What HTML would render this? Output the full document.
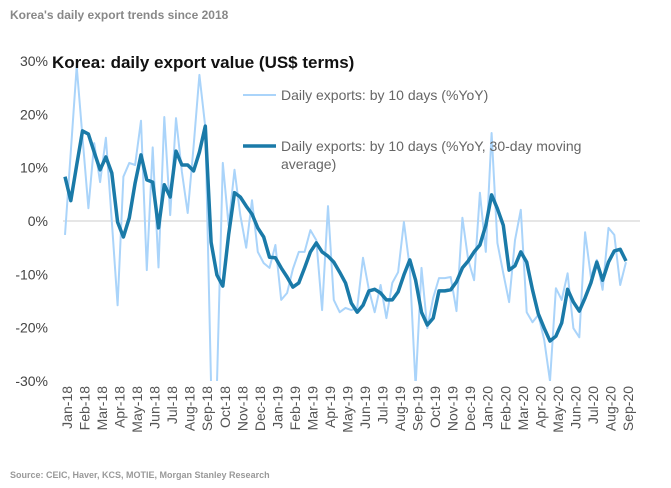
<!DOCTYPE html>
<html><head><meta charset="utf-8"><style>
body{margin:0;background:#fff;width:671px;height:483px;overflow:hidden;font-family:"Liberation Sans",sans-serif}
</style></head><body>
<svg width="671" height="483" xmlns="http://www.w3.org/2000/svg">
<text x="10" y="19" font-size="12" font-weight="bold" fill="#888">Korea's daily export trends since 2018</text>
<text x="10" y="478" font-size="9" font-weight="bold" fill="#999">Source: CEIC, Haver, KCS, MOTIE, Morgan Stanley Research</text>
<defs><clipPath id="pc"><rect x="60" y="61" width="590" height="320"/></clipPath></defs>
<g id="yaxis"></g>
<g id="xaxis"></g>
<line x1="63" x2="640" y1="221" y2="221" stroke="#ccc" stroke-width="1"/>
<g clip-path="url(#pc)"><path id="light" fill="none" stroke="#aad4fa" stroke-width="2" stroke-linejoin="round"/>
<path id="dark" fill="none" stroke="#1a7aa8" stroke-width="3.5" stroke-linejoin="round"/></g>
<text x="52" y="68" font-size="17" font-weight="bold" fill="#111">Korea: daily export value (US$ terms)</text>
<g><line x1="243" x2="276" y1="95" y2="95" stroke="#aad4fa" stroke-width="2"/><text x="281" y="100" font-size="14" fill="#666">Daily exports: by 10 days (%YoY)</text></g>
<g><line x1="243" x2="276" y1="146" y2="146" stroke="#1a7aa8" stroke-width="3.5"/><text x="281" y="151" font-size="14" fill="#666">Daily exports: by 10 days (%YoY, 30-day moving</text><text x="281" y="169" font-size="14" fill="#666">average)</text></g>
</svg>
<script>
const months=["Jan-18","Feb-18","Mar-18","Apr-18","May-18","Jun-18","Jul-18","Aug-18","Sep-18","Oct-18","Nov-18","Dec-18","Jan-19","Feb-19","Mar-19","Apr-19","May-19","Jun-19","Jul-19","Aug-19","Sep-19","Oct-19","Nov-19","Dec-19","Jan-20","Feb-20","Mar-20","Apr-20","May-20","Jun-20","Jul-20","Aug-20","Sep-20"];
const yTicks=[30,20,10,0,-10,-20,-30];
const daily=[-2.6,13,29,15.7,2.4,14.6,7.3,15.6,0,-15.8,8.3,10.9,10.5,18.8,-9.2,13.8,-8.7,19.5,1.1,19.3,9.2,1.5,14,27.4,17.6,-31,-31,10.9,-0.8,9.6,1.1,-5,3.9,-5.8,-7.9,-8.8,-4.5,-14.8,-13.5,-9,-5.8,-5.8,-1.7,-3.6,-16.7,2.8,-14.8,-17.1,-16.3,-16.7,-16.3,-6.9,-12.9,-17.1,-12,-18.2,-11.6,-9.6,-0.2,-8.8,-31,-8.8,-20.1,-14.4,-10.7,-10.7,-10.5,-16.9,0.6,-7.3,-11.1,5.3,-5.8,16.5,-4.1,-9.8,-15.2,-3.6,2.1,-17.1,-19,-17.6,-22.3,-30,-12.6,-14.8,-9.8,-20.1,-21.8,-2.1,-10.5,-7.3,-12.9,-1.3,-2.6,-12,-7.7];
const avg30=[8.3,3.8,10.5,16.9,16.3,12.9,9.6,12,9,-0.2,-3,0.6,7.1,12.4,7.7,7.3,-1.3,6.8,4.5,13.1,10.5,10.5,9.4,12.9,17.8,-4,-10.1,-12.2,-2.6,5.3,4.5,2.8,1.3,-1.3,-3,-6.8,-6.9,-8.8,-10.5,-12.4,-11.6,-8.8,-5.8,-4.1,-5.8,-6.6,-7.7,-9.6,-11.6,-15.4,-17.1,-15.8,-13.1,-12.8,-13.5,-14.8,-14.8,-13.3,-10.1,-7.3,-11.1,-17.1,-19.5,-18.2,-13.1,-13.1,-12.9,-11.4,-8.8,-7.5,-5.8,-4.5,-0.8,4.9,2.3,-0.8,-9.2,-8.4,-5.8,-7.7,-12.9,-17.4,-20.1,-22.5,-21.6,-19.1,-12.8,-15.2,-16.9,-14.4,-11.6,-7.7,-11.1,-7.7,-5.6,-5.3,-7.5];
const NS="http://www.w3.org/2000/svg";
const y=v=>221-v*5.333;
const xi=i=>65+i*(561/(daily.length-1));
const xm=m=>67+m*17.53;
function path(arr){return arr.map((v,i)=>(i?"L":"M")+xi(i).toFixed(1)+","+y(v).toFixed(1)).join("");}
document.getElementById('light').setAttribute('d',path(daily));
document.getElementById('dark').setAttribute('d',path(avg30));
const ya=document.getElementById('yaxis');
yTicks.forEach(t=>{const e=document.createElementNS(NS,'text');


e.setAttribute('x',48);e.setAttribute('y',y(t)+5);e.setAttribute('text-anchor','end');e.setAttribute('font-size','14');e.setAttribute('fill','#444');e.textContent=t+'%';ya.appendChild(e);});
const xa=document.getElementById('xaxis');
months.forEach((m,i)=>{const e=document.createElementNS(NS,'text');


const cx=xm(i)+5;e.setAttribute('transform','translate('+cx+',386) rotate(-90)');e.setAttribute('text-anchor','end');e.setAttribute('font-size','14');e.setAttribute('fill','#555');e.textContent=m;xa.appendChild(e);});
</script>
</body></html>
